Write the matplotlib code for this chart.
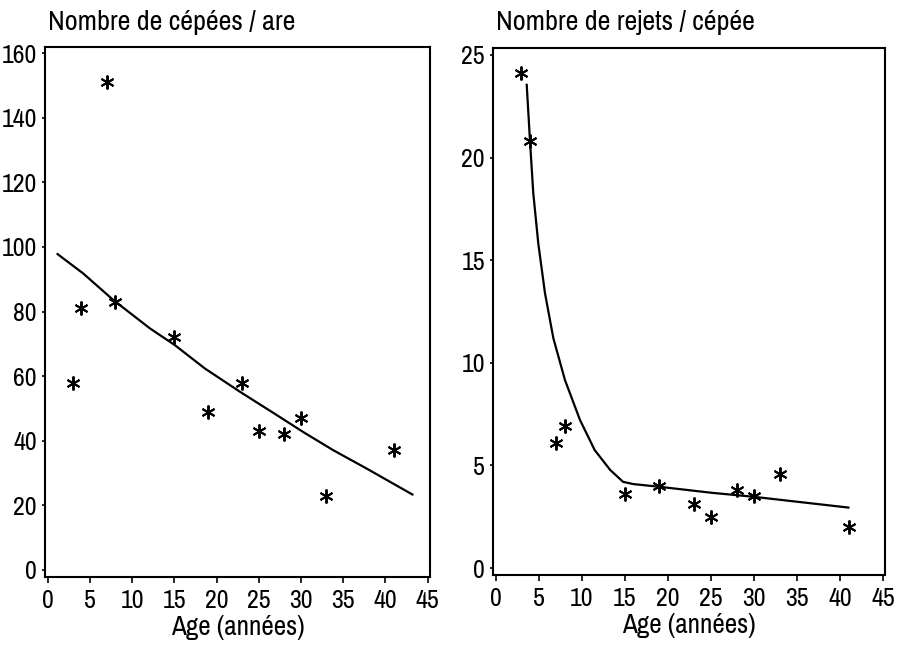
import matplotlib
matplotlib.use("Agg")
import matplotlib.pyplot as plt
from matplotlib import font_manager as fm

names = {f.name for f in fm.fontManager.ttflist}
fams = [f for f in ('Archivo Narrow', 'Roboto Condensed', 'Liberation Sans') if f in names]
plt.rcParams['font.family'] = fams + ['DejaVu Sans']

# ---- data ----
age = [3, 4, 7, 8, 15, 19, 23, 25, 28, 30, 33, 41]
cepees = [58, 81, 151, 83, 72, 49, 58, 43, 42, 47, 23, 37]
rejets = [24.1, 20.8, 6.1, 6.9, 3.6, 4.0, 3.1, 2.5, 3.8, 3.5, 4.6, 2.0]

# fitted curves
fit1_x = [1.06, 4.2, 7.76, 12.1, 15.06, 18.6, 22.75, 27.1, 30.2, 33.8, 37.7, 43.3]
fit1_y = [98.0, 91.8, 83.6, 74.8, 69.6, 62.4, 55.2, 48.0, 42.8, 37.1, 31.5, 23.2]
fit2_x = [3.6, 3.98, 4.37, 4.95, 5.73, 6.7, 8.05, 9.8, 11.5, 13.3, 14.8, 16.0, 19.0, 25.0, 30.0, 41.1]
fit2_y = [23.6, 20.86, 18.26, 15.82, 13.39, 11.2, 9.16, 7.21, 5.75, 4.78, 4.2, 4.09, 3.96, 3.67, 3.47, 2.94]

xticks = [0, 5, 10, 15, 20, 25, 30, 35, 40, 45]
yticks1 = [0, 20, 40, 60, 80, 100, 120, 140, 160]
yticks2 = [0, 5, 10, 15, 20, 25]

W, H = 898, 646
fig = plt.figure(figsize=(W / 100, H / 100), dpi=100)

def px_axes(l, t, r, b):
    return fig.add_axes([l / W, (H - b) / H, (r - l) / W, (b - t) / H])

ax1 = px_axes(45, 47, 430, 577)
ax2 = px_axes(493, 48, 885, 575)

star = (6, 2, 0)
TICK_FS = 18.7
LAB_FS = 19.5
TITLE_FS = 20.3

for ax, y, fx, fy, yt, xl, yl in [
    (ax1, cepees, fit1_x, fit1_y, yticks1, (-0.32, 45.27), (-2.17, 161.9)),
    (ax2, rejets, fit2_x, fit2_y, yticks2, (-0.31, 45.23), (-0.34, 25.34)),
]:
    ax.plot(fx, fy, color='black', lw=1.6, solid_capstyle='butt',
            solid_joinstyle='round')
    ax.plot(age, y, linestyle='none', marker=star, markersize=10,
            markeredgewidth=1.4, color='black')
    ax.set_xlim(*xl)
    ax.set_ylim(*yl)
    ax.set_xticks(xticks)
    ax.set_yticks(yt)
    ax.tick_params(axis='both', direction='out', length=4, width=1.2,
                   labelsize=TICK_FS, color='black')
    ax.tick_params(axis='x', pad=5)
    ax.tick_params(axis='y', pad=3.3, length=2.5)
    for s in ax.spines.values():
        s.set_linewidth(1.5)
        s.set_color('black')
    ax.set_xlabel('Age (années)', fontsize=LAB_FS, labelpad=2)

fig.text(48 / W, 1 - 30 / H, 'Nombre de cépées / are', fontsize=TITLE_FS,
         ha='left', va='baseline')
fig.text(496 / W, 1 - 30 / H, 'Nombre de rejets / cépée', fontsize=TITLE_FS,
         ha='left', va='baseline')

fig.savefig('out.png', dpi=100)
